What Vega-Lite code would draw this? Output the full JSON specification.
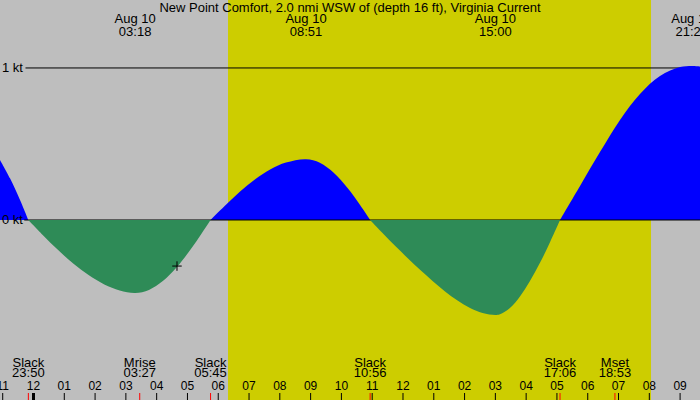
{
  "$schema": "https://vega.github.io/schema/vega-lite/v6.json",
  "description": "Tidal current, New Point Comfort, Aug 10",
  "width": 700,
  "height": 400,
  "autosize": {"type": "none"},
  "padding": 0,
  "background": "#BEBEBE",
  "config": {
    "view": {"stroke": null},
    "text": {"font": "Liberation Sans", "fontSize": 13, "color": "#000000", "baseline": "alphabetic"}
  },
  "datasets": {
    "daylight": [{"t": 6.317, "t2": 20.055}],
    "levels": [{"v": 1, "lab": "1 kt"}, {"v": 0, "lab": "0 kt"}],
    "curve": [
      {"t": -1.088, "v": 0.395, "seg": "f0", "dir": "flood"},
      {"t": -0.763, "v": 0.274, "seg": "f0", "dir": "flood"},
      {"t": -0.438, "v": 0.132, "seg": "f0", "dir": "flood"},
      {"t": -0.167, "v": 0, "seg": "f0", "dir": "flood"},
      {"t": -0.167, "v": 0, "seg": "e1", "dir": "ebb"},
      {"t": 0.3, "v": -0.098, "seg": "e1", "dir": "ebb"},
      {"t": 0.8, "v": -0.198, "seg": "e1", "dir": "ebb"},
      {"t": 1.3, "v": -0.288, "seg": "e1", "dir": "ebb"},
      {"t": 1.8, "v": -0.364, "seg": "e1", "dir": "ebb"},
      {"t": 2.3, "v": -0.424, "seg": "e1", "dir": "ebb"},
      {"t": 2.8, "v": -0.463, "seg": "e1", "dir": "ebb"},
      {"t": 3.3, "v": -0.48, "seg": "e1", "dir": "ebb"},
      {"t": 3.75, "v": -0.46, "seg": "e1", "dir": "ebb"},
      {"t": 4.2, "v": -0.402, "seg": "e1", "dir": "ebb"},
      {"t": 4.65, "v": -0.311, "seg": "e1", "dir": "ebb"},
      {"t": 5.1, "v": -0.194, "seg": "e1", "dir": "ebb"},
      {"t": 5.45, "v": -0.092, "seg": "e1", "dir": "ebb"},
      {"t": 5.75, "v": 0, "seg": "e1", "dir": "ebb"},
      {"t": 5.75, "v": 0, "seg": "f1", "dir": "flood"},
      {"t": 6.2, "v": 0.09, "seg": "f1", "dir": "flood"},
      {"t": 6.7, "v": 0.185, "seg": "f1", "dir": "flood"},
      {"t": 7.2, "v": 0.268, "seg": "f1", "dir": "flood"},
      {"t": 7.7, "v": 0.334, "seg": "f1", "dir": "flood"},
      {"t": 8.2, "v": 0.378, "seg": "f1", "dir": "flood"},
      {"t": 8.85, "v": 0.4, "seg": "f1", "dir": "flood"},
      {"t": 9.3, "v": 0.377, "seg": "f1", "dir": "flood"},
      {"t": 9.75, "v": 0.311, "seg": "f1", "dir": "flood"},
      {"t": 10.2, "v": 0.21, "seg": "f1", "dir": "flood"},
      {"t": 10.6, "v": 0.1, "seg": "f1", "dir": "flood"},
      {"t": 10.933, "v": 0, "seg": "f1", "dir": "flood"},
      {"t": 10.933, "v": 0, "seg": "e2", "dir": "ebb"},
      {"t": 11.335, "v": -0.086, "seg": "e2", "dir": "ebb"},
      {"t": 11.741, "v": -0.17, "seg": "e2", "dir": "ebb"},
      {"t": 12.147, "v": -0.25, "seg": "e2", "dir": "ebb"},
      {"t": 12.553, "v": -0.328, "seg": "e2", "dir": "ebb"},
      {"t": 12.959, "v": -0.401, "seg": "e2", "dir": "ebb"},
      {"t": 13.365, "v": -0.47, "seg": "e2", "dir": "ebb"},
      {"t": 13.771, "v": -0.53, "seg": "e2", "dir": "ebb"},
      {"t": 14.177, "v": -0.579, "seg": "e2", "dir": "ebb"},
      {"t": 14.583, "v": -0.612, "seg": "e2", "dir": "ebb"},
      {"t": 15.0, "v": -0.625, "seg": "e2", "dir": "ebb"},
      {"t": 15.149, "v": -0.62, "seg": "e2", "dir": "ebb"},
      {"t": 15.474, "v": -0.579, "seg": "e2", "dir": "ebb"},
      {"t": 15.799, "v": -0.503, "seg": "e2", "dir": "ebb"},
      {"t": 16.124, "v": -0.402, "seg": "e2", "dir": "ebb"},
      {"t": 16.449, "v": -0.282, "seg": "e2", "dir": "ebb"},
      {"t": 16.774, "v": -0.147, "seg": "e2", "dir": "ebb"},
      {"t": 17.1, "v": 0, "seg": "e2", "dir": "ebb"},
      {"t": 17.1, "v": 0, "seg": "f2", "dir": "flood"},
      {"t": 17.749, "v": 0.224, "seg": "f2", "dir": "flood"},
      {"t": 18.398, "v": 0.447, "seg": "f2", "dir": "flood"},
      {"t": 19.048, "v": 0.658, "seg": "f2", "dir": "flood"},
      {"t": 19.697, "v": 0.829, "seg": "f2", "dir": "flood"},
      {"t": 20.347, "v": 0.947, "seg": "f2", "dir": "flood"},
      {"t": 20.997, "v": 1.006, "seg": "f2", "dir": "flood"},
      {"t": 21.38, "v": 1.013, "seg": "f2", "dir": "flood"},
      {"t": 21.646, "v": 1.01, "seg": "f2", "dir": "flood"}
    ],
    "now": [{"t": 4.66, "v": -0.303}],
    "extremes": [
      {"t": 3.3, "day": "Aug 10", "time": "03:18"},
      {"t": 8.85, "day": "Aug 10", "time": "08:51"},
      {"t": 15.0, "day": "Aug 10", "time": "15:00"},
      {"t": 21.38, "day": "Aug 10", "time": "21:23"}
    ],
    "hours": [
      {"t": -1, "lab": "11"}, {"t": 0, "lab": "12"}, {"t": 1, "lab": "01"},
      {"t": 2, "lab": "02"}, {"t": 3, "lab": "03"}, {"t": 4, "lab": "04"},
      {"t": 5, "lab": "05"}, {"t": 6, "lab": "06"}, {"t": 7, "lab": "07"},
      {"t": 8, "lab": "08"}, {"t": 9, "lab": "09"}, {"t": 10, "lab": "10"},
      {"t": 11, "lab": "11"}, {"t": 12, "lab": "12"}, {"t": 13, "lab": "01"},
      {"t": 14, "lab": "02"}, {"t": 15, "lab": "03"}, {"t": 16, "lab": "04"},
      {"t": 17, "lab": "05"}, {"t": 18, "lab": "06"}, {"t": 19, "lab": "07"},
      {"t": 20, "lab": "08"}, {"t": 21, "lab": "09"}
    ],
    "days": [{"t": 0}],
    "events": [
      {"t": -0.167, "name": "Slack", "time": "23:50"},
      {"t": 3.45, "name": "Mrise", "time": "03:27"},
      {"t": 5.75, "name": "Slack", "time": "05:45"},
      {"t": 10.933, "name": "Slack", "time": "10:56"},
      {"t": 17.1, "name": "Slack", "time": "17:06"},
      {"t": 18.883, "name": "Mset", "time": "18:53"}
    ]
  },
  "layer": [
    {
      "data": {"name": "daylight"},
      "mark": {"type": "rect", "color": "#CDCD00"},
      "encoding": {
        "x": {"field": "t", "type": "quantitative", "scale": {"domain": [-1.088, 21.646], "nice": false, "zero": false}, "axis": null},
        "x2": {"field": "t2"},
        "y": {"datum": 1.447, "type": "quantitative", "scale": {"domain": [-1.184, 1.447], "nice": false, "zero": false}, "axis": null},
        "y2": {"datum": -1.184}
      }
    },
    {
      "data": {"name": "levels"},
      "transform": [{"filter": "datum.v == 1"}],
      "mark": {"type": "rule", "color": "#000000", "strokeWidth": 1},
      "encoding": {
        "x": {"datum": -0.26, "type": "quantitative", "scale": {"domain": [-1.088, 21.646], "nice": false, "zero": false}, "axis": null},
        "x2": {"datum": 21.646},
        "y": {"field": "v", "type": "quantitative", "scale": {"domain": [-1.184, 1.447], "nice": false, "zero": false}, "axis": null}
      }
    },
    {
      "data": {"name": "curve"},
      "transform": [{"filter": "datum.dir == 'flood'"}],
      "mark": {"type": "area", "interpolate": "catmull-rom", "color": "#0000FF"},
      "encoding": {
        "x": {"field": "t", "type": "quantitative", "scale": {"domain": [-1.088, 21.646], "nice": false, "zero": false}, "axis": null},
        "y": {"field": "v", "type": "quantitative", "stack": null, "scale": {"domain": [-1.184, 1.447], "nice": false, "zero": false}, "axis": null},
        "y2": {"datum": 0},
        "detail": {"field": "seg", "type": "nominal"}
      }
    },
    {
      "data": {"name": "levels"},
      "transform": [{"filter": "datum.v == 0"}],
      "mark": {"type": "rule", "color": "#000000", "strokeWidth": 1},
      "encoding": {
        "x": {"datum": -0.3, "type": "quantitative", "scale": {"domain": [-1.088, 21.646], "nice": false, "zero": false}, "axis": null},
        "x2": {"datum": 21.646},
        "y": {"field": "v", "type": "quantitative", "scale": {"domain": [-1.184, 1.447], "nice": false, "zero": false}, "axis": null}
      }
    },
    {
      "data": {"name": "curve"},
      "transform": [{"filter": "datum.dir == 'ebb'"}],
      "mark": {"type": "area", "interpolate": "catmull-rom", "color": "#2E8B57"},
      "encoding": {
        "x": {"field": "t", "type": "quantitative", "scale": {"domain": [-1.088, 21.646], "nice": false, "zero": false}, "axis": null},
        "y": {"field": "v", "type": "quantitative", "stack": null, "scale": {"domain": [-1.184, 1.447], "nice": false, "zero": false}, "axis": null},
        "y2": {"datum": 0},
        "detail": {"field": "seg", "type": "nominal"}
      }
    },
    {
      "data": {"name": "levels"},
      "mark": {"type": "text", "align": "left", "baseline": "middle"},
      "encoding": {
        "x": {"datum": -1.025, "type": "quantitative", "scale": {"domain": [-1.088, 21.646], "nice": false, "zero": false}, "axis": null},
        "y": {"field": "v", "type": "quantitative", "scale": {"domain": [-1.184, 1.447], "nice": false, "zero": false}, "axis": null},
        "text": {"field": "lab"}
      }
    },
    {
      "data": {"name": "now"},
      "mark": {"type": "point", "shape": "M-1,0H1M0,-1V1", "filled": false, "color": "#000000", "strokeWidth": 1, "size": 90, "opacity": 1},
      "encoding": {
        "x": {"field": "t", "type": "quantitative", "scale": {"domain": [-1.088, 21.646], "nice": false, "zero": false}, "axis": null},
        "y": {"field": "v", "type": "quantitative", "scale": {"domain": [-1.184, 1.447], "nice": false, "zero": false}, "axis": null}
      }
    },
    {
      "data": {"values": [{"title": "New Point Comfort, 2.0 nmi WSW of (depth 16 ft), Virginia Current"}]},
      "mark": {"type": "text", "align": "center"},
      "encoding": {
        "x": {"datum": 10.279, "type": "quantitative", "scale": {"domain": [-1.088, 21.646], "nice": false, "zero": false}, "axis": null},
        "y": {"datum": 1.37, "type": "quantitative", "scale": {"domain": [-1.184, 1.447], "nice": false, "zero": false}, "axis": null},
        "text": {"field": "title"}
      }
    },
    {
      "data": {"name": "extremes"},
      "mark": {"type": "text", "align": "center"},
      "encoding": {
        "x": {"field": "t", "type": "quantitative", "scale": {"domain": [-1.088, 21.646], "nice": false, "zero": false}, "axis": null},
        "y": {"datum": 1.296, "type": "quantitative", "scale": {"domain": [-1.184, 1.447], "nice": false, "zero": false}, "axis": null},
        "text": {"field": "day"}
      }
    },
    {
      "data": {"name": "extremes"},
      "mark": {"type": "text", "align": "center"},
      "encoding": {
        "x": {"field": "t", "type": "quantitative", "scale": {"domain": [-1.088, 21.646], "nice": false, "zero": false}, "axis": null},
        "y": {"datum": 1.211, "type": "quantitative", "scale": {"domain": [-1.184, 1.447], "nice": false, "zero": false}, "axis": null},
        "text": {"field": "time"}
      }
    },
    {
      "data": {"name": "hours"},
      "mark": {"type": "rule", "color": "#000000", "strokeWidth": 1},
      "encoding": {
        "x": {"field": "t", "type": "quantitative", "scale": {"domain": [-1.088, 21.646], "nice": false, "zero": false}, "axis": null},
        "y": {"datum": -1.138, "type": "quantitative", "scale": {"domain": [-1.184, 1.447], "nice": false, "zero": false}, "axis": null},
        "y2": {"datum": -1.184}
      }
    },
    {
      "data": {"name": "days"},
      "mark": {"type": "rule", "color": "#000000", "strokeWidth": 3},
      "encoding": {
        "x": {"field": "t", "type": "quantitative", "scale": {"domain": [-1.088, 21.646], "nice": false, "zero": false}, "axis": null},
        "y": {"datum": -1.138, "type": "quantitative", "scale": {"domain": [-1.184, 1.447], "nice": false, "zero": false}, "axis": null},
        "y2": {"datum": -1.184}
      }
    },
    {
      "data": {"name": "events"},
      "mark": {"type": "rule", "color": "#FF0000", "strokeWidth": 1},
      "encoding": {
        "x": {"field": "t", "type": "quantitative", "scale": {"domain": [-1.088, 21.646], "nice": false, "zero": false}, "axis": null},
        "y": {"datum": -1.138, "type": "quantitative", "scale": {"domain": [-1.184, 1.447], "nice": false, "zero": false}, "axis": null},
        "y2": {"datum": -1.184}
      }
    },
    {
      "data": {"name": "hours"},
      "mark": {"type": "text", "align": "center", "fontSize": 12},
      "encoding": {
        "x": {"field": "t", "type": "quantitative", "scale": {"domain": [-1.088, 21.646], "nice": false, "zero": false}, "axis": null},
        "y": {"datum": -1.115, "type": "quantitative", "scale": {"domain": [-1.184, 1.447], "nice": false, "zero": false}, "axis": null},
        "text": {"field": "lab"}
      }
    },
    {
      "data": {"name": "events"},
      "mark": {"type": "text", "align": "center"},
      "encoding": {
        "x": {"field": "t", "type": "quantitative", "scale": {"domain": [-1.088, 21.646], "nice": false, "zero": false}, "axis": null},
        "y": {"datum": -0.965, "type": "quantitative", "scale": {"domain": [-1.184, 1.447], "nice": false, "zero": false}, "axis": null},
        "text": {"field": "name"}
      }
    },
    {
      "data": {"name": "events"},
      "mark": {"type": "text", "align": "center"},
      "encoding": {
        "x": {"field": "t", "type": "quantitative", "scale": {"domain": [-1.088, 21.646], "nice": false, "zero": false}, "axis": null},
        "y": {"datum": -1.035, "type": "quantitative", "scale": {"domain": [-1.184, 1.447], "nice": false, "zero": false}, "axis": null},
        "text": {"field": "time"}
      }
    }
  ]
}
